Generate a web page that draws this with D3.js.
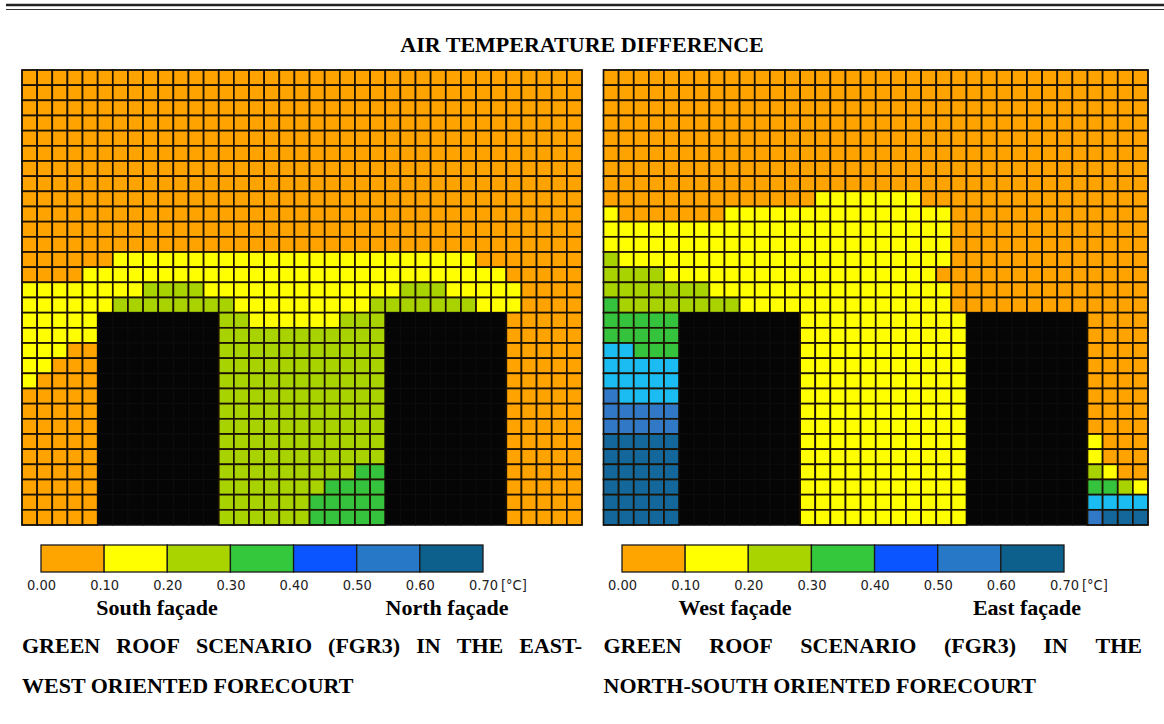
<!DOCTYPE html>
<html><head><meta charset="utf-8">
<script src="https://cdn.jsdelivr.net/npm/d3@7"></script>
<style>
html,body{margin:0;padding:0;background:#fff;}
svg{display:block;}
</style></head><body>
<svg id="chart" width="1164" height="724"></svg>
<script>
// Temperature-difference classes (°C)
const binEdges = [0.00, 0.10, 0.20, 0.30, 0.40, 0.50, 0.60, 0.70];
const binLabels = ["0.00", "0.10", "0.20", "0.30", "0.40", "0.50", "0.60", "0.70"];
const legendColors = ["#ffa500", "#ffff00", "#a9d400", "#34c83c", "#0a55ff", "#2878c8", "#0d5f8c"];
const cellColors = ["#ffa300", "#ffff00", "#a9d300", "#35c23d", "#1bbcf2", "#3179c6", "#13679a"];
const buildingColor = "#050505";

// Grid cells: class index per cell, "B" = building footprint (top row first).
// Blocks of columns separated by spaces for readability.
const eastWestRows = [
  "00000 00000000 00000000000 00000000 00000",
  "00000 00000000 00000000000 00000000 00000",
  "00000 00000000 00000000000 00000000 00000",
  "00000 00000000 00000000000 00000000 00000",
  "00000 00000000 00000000000 00000000 00000",
  "00000 00000000 00000000000 00000000 00000",
  "00000 00000000 00000000000 00000000 00000",
  "00000 00000000 00000000000 00000000 00000",
  "00000 00000000 00000000000 00000000 00000",
  "00000 00000000 00000000000 00000000 00000",
  "00000 00000000 00000000000 00000000 00000",
  "00000 00000000 00000000000 00000000 00000",
  "00000 01111111 11111111111 11111100 00000",
  "00001 11111111 11111111111 11111111 00000",
  "11111 11122221 11111111111 12221111 10000",
  "11111 12222222 21111111112 22222211 10000",
  "11111 BBBBBBBB 22111111222 BBBBBBBB 00000",
  "11111 BBBBBBBB 22222222222 BBBBBBBB 00000",
  "11100 BBBBBBBB 22222222222 BBBBBBBB 00000",
  "11000 BBBBBBBB 22222222222 BBBBBBBB 00000",
  "10000 BBBBBBBB 22222222222 BBBBBBBB 00000",
  "00000 BBBBBBBB 22222222222 BBBBBBBB 00000",
  "00000 BBBBBBBB 22222222222 BBBBBBBB 00000",
  "00000 BBBBBBBB 22222222222 BBBBBBBB 00000",
  "00000 BBBBBBBB 22222222222 BBBBBBBB 00000",
  "00000 BBBBBBBB 22222222222 BBBBBBBB 00000",
  "00000 BBBBBBBB 22222222233 BBBBBBBB 00000",
  "00000 BBBBBBBB 22222223333 BBBBBBBB 00000",
  "00000 BBBBBBBB 22222233333 BBBBBBBB 00000",
  "00000 BBBBBBBB 22222233333 BBBBBBBB 00000"
];

const northSouthRows = [
  "00000 00000000 00000000000 00000000 0000",
  "00000 00000000 00000000000 00000000 0000",
  "00000 00000000 00000000000 00000000 0000",
  "00000 00000000 00000000000 00000000 0000",
  "00000 00000000 00000000000 00000000 0000",
  "00000 00000000 00000000000 00000000 0000",
  "00000 00000000 00000000000 00000000 0000",
  "00000 00000000 00000000000 00000000 0000",
  "00000 00000000 01111111000 00000000 0000",
  "10000 00011111 11111111110 00000000 0000",
  "11111 11111111 11111111110 00000000 0000",
  "11111 11111111 11111111110 00000000 0000",
  "21111 11111111 11111111110 00000000 0000",
  "22221 11111111 11111111100 00000000 0000",
  "22222 22111111 11111111110 00000000 0000",
  "32222 22221111 11111111110 00000000 0000",
  "33333 BBBBBBBB 11111111111 BBBBBBBB 0000",
  "33333 BBBBBBBB 11111111111 BBBBBBBB 0000",
  "44333 BBBBBBBB 11111111111 BBBBBBBB 0000",
  "44444 BBBBBBBB 11111111111 BBBBBBBB 0000",
  "44444 BBBBBBBB 11111111111 BBBBBBBB 0000",
  "54444 BBBBBBBB 11111111111 BBBBBBBB 0000",
  "55555 BBBBBBBB 11111111111 BBBBBBBB 0000",
  "55555 BBBBBBBB 11111111111 BBBBBBBB 0000",
  "66666 BBBBBBBB 11111111111 BBBBBBBB 1000",
  "66666 BBBBBBBB 11111111111 BBBBBBBB 1000",
  "66666 BBBBBBBB 11111111111 BBBBBBBB 2100",
  "66666 BBBBBBBB 11111111111 BBBBBBBB 3321",
  "66666 BBBBBBBB 11111111111 BBBBBBBB 4444",
  "66666 BBBBBBBB 11111111111 BBBBBBBB 5666"
];

const chartTitle = "AIR TEMPERATURE DIFFERENCE";
const unitLabel = "[°C]";
const facadeLabels = [["South façade", "North façade"], ["West façade", "East façade"]];
const captions = [
  ["GREEN ROOF SCENARIO (FGR3) IN THE EAST-", "WEST ORIENTED FORECOURT"],
  ["GREEN ROOF SCENARIO (FGR3) IN THE", "NORTH-SOUTH ORIENTED FORECOURT"]
];

const svg = d3.select("#chart");
const serif = "'Liberation Serif', 'Times New Roman', serif";
const narrow = "'Liberation Sans Narrow', 'DejaVu Sans Condensed', 'DejaVu Sans', sans-serif";
const textSize = 22;

// double rule across the top of the page
svg.append("line").attr("x1", 6).attr("x2", 1164).attr("y1", 5).attr("y2", 5)
  .attr("stroke", "#222").attr("stroke-width", 2.6);
svg.append("line").attr("x1", 6).attr("x2", 1164).attr("y1", 9.5).attr("y2", 9.5)
  .attr("stroke", "#333").attr("stroke-width", 1);

svg.append("text").attr("x", 582).attr("y", 52).attr("text-anchor", "middle")
  .attr("font-family", serif).attr("font-weight", "bold").attr("font-size", textSize)
  .text(chartTitle);

const panels = [
  { rows: eastWestRows, x: [22, 582], legend: [41, 483], facadeX: [157, 447], facades: facadeLabels[0], caption: captions[0] },
  { rows: northSouthRows, x: [603.5, 1148], legend: [622, 1064], facadeX: [735, 1027], facades: facadeLabels[1], caption: captions[1] }
];

panels.forEach((p, pi) => {
  const grid = p.rows.map(r => r.replace(/ /g, "").split(""));
  const nRows = grid.length, nCols = grid[0].length;
  const xs = d3.scaleBand().domain(d3.range(nCols)).range(p.x);
  const ys = d3.scaleBand().domain(d3.range(nRows)).range([70, 525]);
  const cells = [];
  grid.forEach((row, r) => row.forEach((v, c) => cells.push({ r, c, v })));

  const g = svg.append("g");
  g.append("rect").attr("x", p.x[0]).attr("y", 70).attr("width", p.x[1] - p.x[0]).attr("height", 455)
    .attr("fill", "#1a1000");
  g.selectAll("rect.cell").data(cells).join("rect").attr("class", "cell")
    .attr("x", d => xs(d.c)).attr("y", d => ys(d.r))
    .attr("width", xs.bandwidth()).attr("height", ys.bandwidth())
    .attr("fill", d => d.v === "B" ? buildingColor : cellColors[+d.v])
    .attr("stroke", d => d.v === "B" ? "#0d0d0d" : "#1c1200")
    .attr("stroke-width", d => d.v === "B" ? 1 : 1.7);
  g.append("rect").attr("x", p.x[0]).attr("y", 70).attr("width", p.x[1] - p.x[0]).attr("height", 455)
    .attr("fill", "none").attr("stroke", "#111").attr("stroke-width", 1);

  // colour legend
  const ls = d3.scaleLinear().domain([binEdges[0], binEdges[binEdges.length - 1]]).range(p.legend);
  const lg = svg.append("g");
  lg.selectAll("rect").data(legendColors).join("rect")
    .attr("x", (d, i) => ls(binEdges[i])).attr("y", 545)
    .attr("width", (d, i) => ls(binEdges[i + 1]) - ls(binEdges[i])).attr("height", 27)
    .attr("fill", d => d).attr("stroke", "#1a1a1a").attr("stroke-width", 1.3);
  const axis = d3.axisBottom(ls).tickValues(binEdges).tickSize(0)
    .tickFormat((d, i) => binLabels[i]);
  const ax = svg.append("g").attr("transform", "translate(0,590)").call(axis);
  ax.select(".domain").remove();
  ax.selectAll("text").attr("font-family", narrow).attr("font-size", 14.5).attr("fill", "#222")
    .attr("y", 0).attr("dy", 0);
  svg.append("text").attr("x", ls(binEdges[binEdges.length - 1]) + 18).attr("y", 590)
    .attr("font-family", narrow).attr("font-size", 14.5).attr("fill", "#222").text(unitLabel);

  // facade labels
  p.facades.forEach((t, i) => {
    svg.append("text").attr("x", p.facadeX[i]).attr("y", 615).attr("text-anchor", "middle")
      .attr("font-family", serif).attr("font-weight", "bold").attr("font-size", textSize).text(t);
  });

  // caption: first line justified across the panel width, second line left aligned
  const words = p.caption[0].split(" ");
  const wg = svg.append("g").attr("font-family", serif).attr("font-weight", "bold").attr("font-size", textSize);
  const nodes = words.map(w => wg.append("text").attr("y", 653).text(w));
  const widths = nodes.map(n => n.node().getComputedTextLength());
  const right = pi === 1 ? 1142 : p.x[1];
  const gap = (right - p.x[0] - d3.sum(widths)) / (words.length - 1);
  let cx = p.x[0];
  nodes.forEach((n, i) => { n.attr("x", cx); cx += widths[i] + gap; });
  wg.append("text").attr("x", p.x[0]).attr("y", 693).text(p.caption[1]);
});
</script>
</body></html>
